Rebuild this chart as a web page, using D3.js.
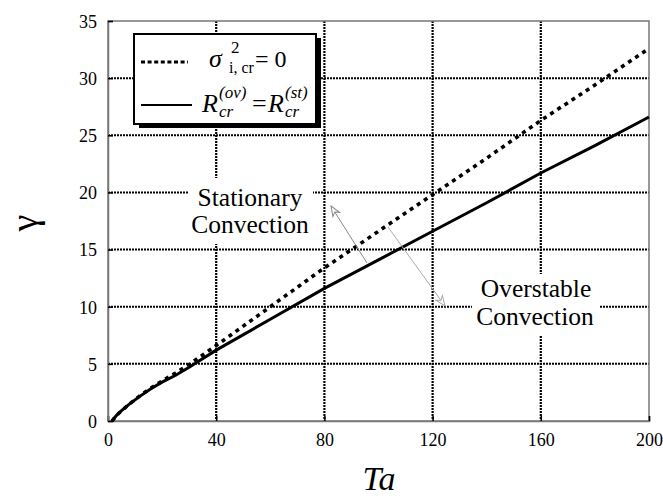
<!DOCTYPE html>
<html lang="en">
<head>
    <meta charset="UTF-8">
    <title>gamma vs Ta</title>
    <script src="https://d3js.org/d3.v7.min.js"></script>
    <style>
        body { margin: 0; background: #fff; }
        svg text { font-family: "Liberation Serif", "DejaVu Serif", serif; }
    </style>
</head>
<body>
<div id="chart"></div>
<script>
    // data
    const ta = [1.5, 3, 5, 8, 12, 16, 20, 25, 30, 40, 60, 80, 100, 120, 140, 160, 180, 200];
    const gammaSigma = [0, 0.45, 0.9, 1.5, 2.25, 2.9, 3.5, 4.2, 4.95, 6.6, 10.0, 13.4, 16.6, 19.8, 23.0, 26.3, 29.4, 32.6];
    const gammaR = [0, 0.45, 0.9, 1.5, 2.2, 2.85, 3.4, 4.0, 4.7, 6.2, 8.9, 11.6, 14.1, 16.6, 19.1, 21.7, 24.1, 26.6];
    const xTicks = [0, 40, 80, 120, 160, 200];
    const yTicks = [0, 5, 10, 15, 20, 25, 30, 35];

    const W = 663, H = 499;
    const pLeft = 108, pRight = 649, pTop = 21, pBottom = 421;
    const serif = "Liberation Serif, DejaVu Serif, serif";

    const svg = d3.select("#chart").append("svg")
        .attr("width", W).attr("height", H)
        .attr("font-family", serif);

    const x = d3.scaleLinear().domain([0, 200]).range([pLeft, pRight]);
    const y = d3.scaleLinear().domain([0, 35]).range([pBottom, pTop]);

    // grid
    svg.append("g").selectAll("line")
        .data(xTicks.slice(1, -1)).enter().append("line")
        .attr("x1", d => x(d)).attr("x2", d => x(d))
        .attr("y1", pTop).attr("y2", pBottom)
        .attr("stroke", "#000").attr("stroke-width", 2.2)
        .attr("stroke-dasharray", "2 1");
    svg.append("g").selectAll("line")
        .data(yTicks.slice(1, -1)).enter().append("line")
        .attr("x1", pLeft).attr("x2", pRight)
        .attr("y1", d => y(d)).attr("y2", d => y(d))
        .attr("stroke", "#000").attr("stroke-width", 2)
        .attr("stroke-dasharray", "2 1");

    // frame
    svg.append("rect")
        .attr("x", pLeft).attr("y", pTop)
        .attr("width", pRight - pLeft).attr("height", pBottom - pTop)
        .attr("fill", "none").attr("stroke", "#777").attr("stroke-width", 1.5);

    // axes (ticks inward)
    const xAxis = svg.append("g")
        .attr("transform", `translate(0,${pBottom})`)
        .call(d3.axisBottom(x).tickValues(xTicks).tickSize(-5).tickPadding(12));
    const yAxis = svg.append("g")
        .attr("transform", `translate(${pLeft},0)`)
        .call(d3.axisLeft(y).tickValues(yTicks).tickSize(-5).tickPadding(11));
    [xAxis, yAxis].forEach(a => {
        a.attr("font-family", serif).attr("font-size", 18);
        a.select(".domain").attr("stroke", "#777").attr("stroke-width", 1.5);
        a.selectAll(".tick line").attr("stroke", "#000").attr("stroke-width", 1.5);
        a.selectAll("text").attr("fill", "#000");
    });
    yAxis.selectAll("text").attr("dy", "0.35em");

    // region labels (white boxes hide the grid)
    svg.append("rect").attr("x", 188).attr("y", 178).attr("width", 125).attr("height", 66).attr("fill", "#fff");
    svg.append("rect").attr("x", 472).attr("y", 274).attr("width", 128).attr("height", 62).attr("fill", "#fff");
    const lab = svg.append("g").attr("font-size", 25.5).attr("text-anchor", "middle");
    [["Stationary", 250, 206], ["Convection", 250, 233],
     ["Overstable", 536, 297], ["Convection", 535, 325]].forEach(d => {
        lab.append("text").attr("x", d[1]).attr("y", d[2])
            .attr("fill", "#000").text(d[0]);
    });

    // curves
    const line = d3.line().x(d => x(d[0])).y(d => y(d[1]));
    svg.append("path")
        .datum(ta.map((t, i) => [t, gammaR[i]]))
        .attr("d", line).attr("fill", "none")
        .attr("stroke", "#000").attr("stroke-width", 3);
    svg.append("path")
        .datum(ta.map((t, i) => [t, gammaSigma[i]]))
        .attr("d", line).attr("fill", "none")
        .attr("stroke", "#000").attr("stroke-width", 3.6)
        .attr("stroke-dasharray", "4 4.5");

    // arrows
    const defs = svg.append("defs");
    function marker(id, col) {
        defs.append("marker").attr("id", id)
            .attr("viewBox", "0 0 12 10").attr("refX", 11).attr("refY", 5)
            .attr("markerWidth", 12).attr("markerHeight", 10)
            .attr("markerUnits", "userSpaceOnUse").attr("orient", "auto")
            .append("path").attr("d", "M1,1 L11,5 L1,9 L4,5 Z")
            .attr("fill", "#fff").attr("stroke", col).attr("stroke-width", 1);
    }
    marker("a1", "#888");
    marker("a2", "#aaa");
    svg.append("line")
        .attr("x1", 367).attr("y1", 263).attr("x2", 331).attr("y2", 206)
        .attr("stroke", "#888").attr("stroke-width", 1).attr("marker-end", "url(#a1)");
    svg.append("line")
        .attr("x1", 388).attr("y1", 227).attr("x2", 445).attr("y2", 306)
        .attr("stroke", "#aaa").attr("stroke-width", 1).attr("marker-end", "url(#a2)");

    // legend
    const lg = svg.append("g");
    lg.append("rect").attr("x", 139).attr("y", 38).attr("width", 182).attr("height", 90)
        .attr("fill", "#000");
    lg.append("rect").attr("x", 134).attr("y", 34).attr("width", 182).attr("height", 90)
        .attr("fill", "#fff").attr("stroke", "#000").attr("stroke-width", 2);
    lg.append("line").attr("x1", 141).attr("x2", 188).attr("y1", 62).attr("y2", 62)
        .attr("stroke", "#000").attr("stroke-width", 3).attr("stroke-dasharray", "4 2.6");
    lg.append("line").attr("x1", 141).attr("x2", 192).attr("y1", 105).attr("y2", 105)
        .attr("stroke", "#000").attr("stroke-width", 2);

    function put(txt, px, py, size, italic) {
        lg.append("text").attr("x", px).attr("y", py).attr("font-size", size)
            .attr("font-style", italic ? "italic" : "normal").attr("fill", "#000").text(txt);
    }
    put("σ", 209, 67, 26, true);
    put("2", 231, 53, 17, false);
    put("i, cr", 229, 73, 16, false);
    put("= 0", 255, 67, 24, false);
    put("R", 202, 112, 26, true);
    put("(ov)", 219, 98, 17, true);
    put("cr", 219, 117, 17, true);
    put("=", 252, 112, 26, false);
    put("R", 268, 112, 26, true);
    put("(st)", 285, 98, 17, true);
    put("cr", 285, 117, 17, true);

    // axis titles
    svg.append("text").attr("transform", "translate(37,223) rotate(-90)")
        .attr("text-anchor", "middle").attr("font-size", 38).text("γ");
    svg.append("text").attr("x", 379).attr("y", 490)
        .attr("text-anchor", "middle").attr("font-size", 34)
        .attr("font-style", "italic").text("Ta");
</script>
</body>
</html>
